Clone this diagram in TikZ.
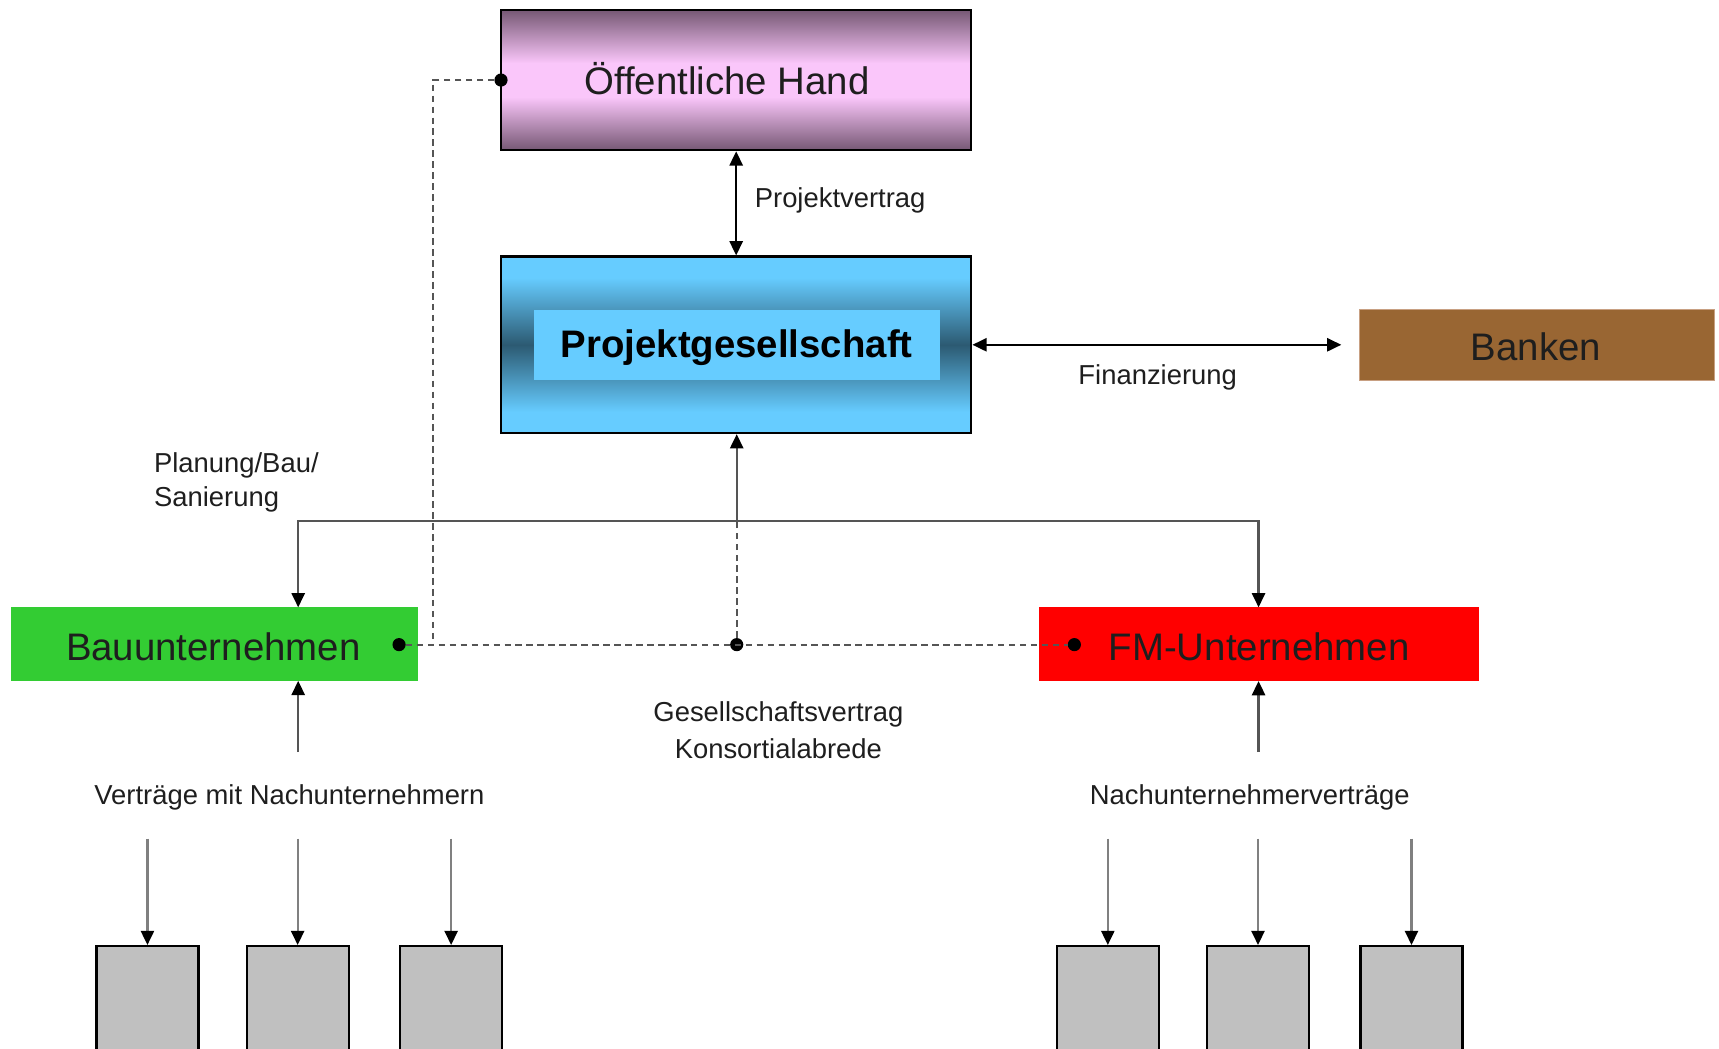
\documentclass[tikz,border=0pt]{standalone}
\usepackage{fontspec}
\setmainfont{Liberation Sans}
\usetikzlibrary{arrows.meta}
\definecolor{ohdark}{RGB}{118,88,116}
\definecolor{ohpink}{RGB}{250,198,250}
\definecolor{pglight}{RGB}{102,204,255}
\definecolor{pgdark}{RGB}{44,90,114}
\definecolor{bankbrown}{RGB}{153,102,51}
\definecolor{bankedge}{RGB}{200,160,130}
\definecolor{baugreen}{RGB}{51,204,51}
\definecolor{fmred}{RGB}{255,0,0}
\definecolor{boxgray}{RGB}{192,192,192}
\definecolor{linegray}{RGB}{85,85,85}
\definecolor{txt}{RGB}{30,30,30}
\pgfdeclareverticalshading{ohshade}{100bp}{color(0bp)=(ohdark); color(25bp)=(ohdark); color(44bp)=(ohpink); color(56bp)=(ohpink); color(75bp)=(ohdark); color(100bp)=(ohdark)}
\pgfdeclareverticalshading{pgshade}{100bp}{color(0bp)=(pglight); color(25bp)=(pglight); color(31bp)=(pglight); color(50bp)=(pgdark); color(69bp)=(pglight); color(75bp)=(pglight); color(100bp)=(pglight)}
\tikzset{
  bigtext/.style={font=\fontsize{35}{42}\selectfont, text=txt},
  smalltext/.style={font=\fontsize{25}{31}\selectfont, text=txt},
  mainbox/.style={draw=black, line width=2pt, inner sep=0pt},
  flatbox/.style={inner sep=0pt, bigtext},
  graybox/.style={draw=black, line width=2pt, fill=boxgray, minimum width=93pt, minimum height=138pt, inner sep=0pt},
  tip/.style={-{Triangle[length=13pt,width=12pt,color=black]}},
  dtip/.style={{Triangle[length=13pt,width=12pt,color=black]}-{Triangle[length=13pt,width=12pt,color=black]}},
  blackline/.style={draw=black, line width=2pt},
  grayline/.style={draw=linegray, line width=2pt},
  dashline/.style={draw=linegray, line width=2pt, dash pattern=on 6pt off 4pt},
  dotmark/.style={circle, fill=black, inner sep=0pt, minimum size=12pt},
}
\begin{document}
\begin{tikzpicture}[x=1pt,y=-1pt]
\useasboundingbox (0,0) rectangle (1568,956);
\clip (0,0) rectangle (1568,956);
% main boxes
\node[mainbox, shading=ohshade, minimum width=429pt, minimum height=128pt] (oh) at (671.5,73) {};
\node[bigtext] (ohtext) at (663,72) {Öffentliche Hand};
\node[mainbox, shading=pgshade, minimum width=429pt, minimum height=161pt] (pg) at (671.5,314.5) {};
\node[fill=pglight, minimum width=370pt, minimum height=64pt, inner sep=0pt] (pgin) at (672,315) {};
\node[font=\fontsize{35}{42}\selectfont\bfseries, text=black] (pgtext) at (672,317) {Projektgesellschaft};
\node[fill=bankbrown, draw=bankedge, line width=1pt, minimum width=324pt, minimum height=65pt, inner sep=0pt] (bk) at (1402,314.5) {};
\node[bigtext] (bktext) at (1401,316) {Banken};
\node[flatbox, fill=baugreen, minimum width=371pt, minimum height=67pt] (bau) at (195.5,587.5) {};
\node[bigtext] (bautext) at (194.5,590) {Bauunternehmen};
\node[flatbox, fill=fmred, minimum width=401pt, minimum height=67pt] (fm) at (1148.5,587.5) {};
\node[bigtext] (fmtext) at (1148.5,590) {FM-Unternehmen};
% gray boxes
\foreach \i/\x in {g1/134.5,g2/271.5,g3/411.5,g4/1010.5,g5/1147.5,g6/1287.5}{
  \node[graybox, anchor=north] (\i) at (\x,862) {};
}
% labels
\node[smalltext, anchor=west] (lpv) at (685,183) {Projektvertrag};
\node[smalltext] (lfin) at (1056,344) {Finanzierung};
\node[smalltext, anchor=west, align=left] (lplan) at (137,440) {Planung/Bau/\\Sanierung};
\node[smalltext, align=center, font=\fontsize{25}{34}\selectfont] (lges) at (710,666) {Gesellschaftsvertrag\\Konsortialabrede};
\node[smalltext] (lvm) at (264,727) {Verträge mit Nachunternehmern};
\node[smalltext] (lnv) at (1140,727) {Nachunternehmerverträge};
% coordinates
\coordinate (j) at (672,475);
\coordinate (bautop) at (272,554);
\coordinate (baubot) at (272,621);
\coordinate (baulow) at (272,686);
\coordinate (fmtop) at (1148,554);
\coordinate (fmlow) at (1148,686);
\coordinate (dcorner1) at (395,73);
\coordinate (dcorner2) at (395,588);
\node[dotmark] (d0) at (457,73) {};
\node[dotmark] (d1) at (364,588) {};
\node[dotmark] (d2) at (672,588) {};
\node[dotmark] (d3) at (980,588) {};
% connectors
\draw[blackline, dtip] (oh.south) -- (pg.north);
\draw[blackline, dtip, shorten >=16pt] (pg.east) -- (bk.west);
\draw[grayline, tip] (j) -- (j |- pg.south);
\draw[grayline, tip] (j) -| (bautop);
\draw[grayline, tip] (j) -| (fmtop);
\draw[grayline, tip] (baulow) -- (baubot);
\draw[grayline, tip] (fmlow) -- (fmlow |- fm.south);
\draw[dashline] (d1) -- (d3);
\draw[dashline] (d2) -- (j);
\draw[dashline] (d0) -- (dcorner1) -- (dcorner2);
\foreach \i in {g1,g2,g3,g4,g5,g6}{
  \draw[grayline, draw=gray, tip] ([yshift=97pt]\i.north) -- (\i.north);
}
\end{tikzpicture}
\end{document}
